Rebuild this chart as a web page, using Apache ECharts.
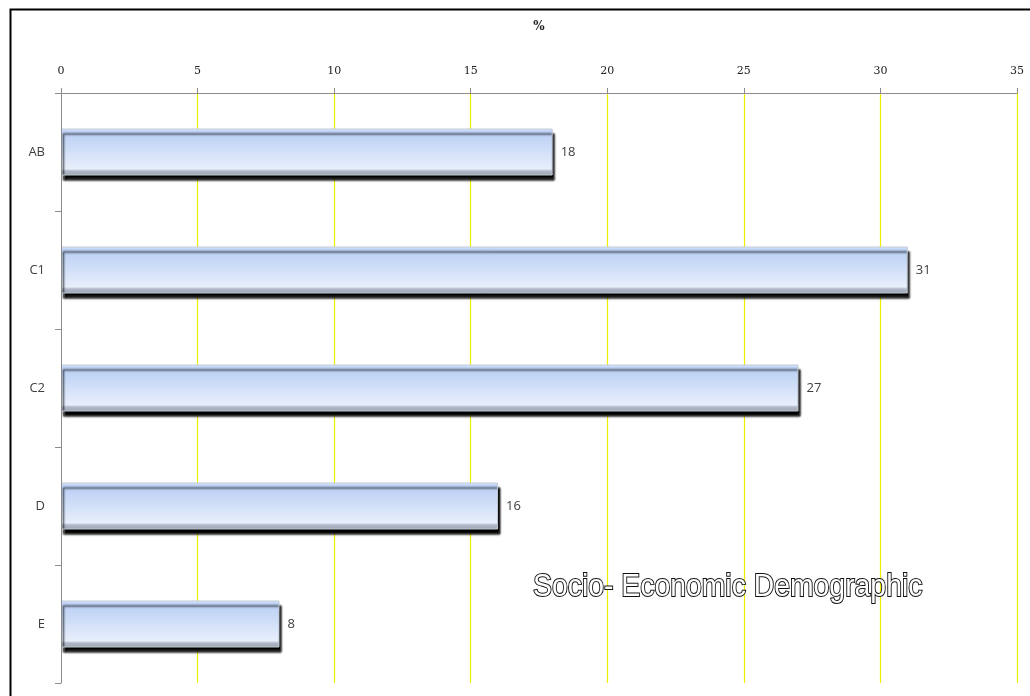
<!DOCTYPE html>
<html>
<head>
<meta charset="utf-8">
<script src="https://cdn.jsdelivr.net/npm/echarts@6/dist/echarts.min.js"></script>
<style>
  html, body { margin: 0; padding: 0; background: #fff; }
  #chart { width: 1030px; height: 696px; }
</style>
</head>
<body>
<div id="chart"></div>
<script>
var categories = ['AB', 'C1', 'C2', 'D', 'E'];
var values = [18, 31, 27, 16, 8];
var axisMax = 35;
var axisStep = 5;

var chartDom = document.getElementById('chart');
var myChart = echarts.init(chartDom, null, { renderer: 'canvas' });

var option = {
    backgroundColor: '#fff',
    animation: false,
    grid: {
        left: 61,
        top: 93,
        right: 13,
        bottom: 13
    },
    xAxis: {
        type: 'value',
        position: 'top',
        min: 0,
        max: axisMax,
        interval: axisStep,
        name: '%',
        nameLocation: 'middle',
        nameGap: 60,
        nameTextStyle: { fontFamily: 'DejaVu Serif', fontWeight: 'bold', fontSize: 12, color: '#222' },
        axisLine: { show: true, lineStyle: { color: '#8c8c8c', width: 1 } },
        axisTick: { show: true, length: 5, lineStyle: { color: '#8c8c8c' } },
        axisLabel: { fontFamily: 'DejaVu Serif', fontSize: 11, color: '#222', margin: 16 },
        splitLine: { show: true, showMinLine: false, lineStyle: { color: '#eeee00', width: 1.2 } }
    },
    yAxis: {
        type: 'category',
        data: categories,
        inverse: true,
        z: 5,
        axisLine: { show: true, lineStyle: { color: '#8c8c8c', width: 1 } },
        axisTick: { show: true, length: 6, inside: false, lineStyle: { color: '#8c8c8c' } },
        axisLabel: { fontFamily: 'Open Sans', fontSize: 13, color: '#404040', margin: 16 },
        splitLine: { show: false }
    },
    series: [{
        type: 'bar',
        data: values,
        barWidth: 47,
        itemStyle: {
            color: new echarts.graphic.LinearGradient(0, 0, 0, 1, [
                { offset: 0, color: '#e4edfc' },
                { offset: 0.07, color: '#b9cff4' },
                { offset: 0.5, color: '#d2e0f8' },
                { offset: 0.86, color: '#e8effc' },
                { offset: 0.9, color: '#b4bccb' },
                { offset: 1, color: '#9aa2b0' }
            ]),
            borderColor: '#c0c8d6',
            borderWidth: 1,
            shadowColor: 'rgba(0,0,0,1)',
            shadowOffsetX: 2,
            shadowOffsetY: 5,
            shadowBlur: 2
        },
        label: {
            show: true,
            position: 'right',
            distance: 8,
            fontFamily: 'Open Sans',
            fontSize: 13,
            color: '#404040'
        }
    }],
    graphic: [
        {
            type: 'rect',
            left: 8,
            top: 7,
            shape: { width: 1060, height: 720 },
            style: { fill: 'none', stroke: '#000', lineWidth: 2 },
            silent: true
        },
        {
            type: 'text',
            x: 533,
            y: 572,
            scaleX: 0.915,
            style: {
                text: 'Socio- Economic Demographic',
                fontFamily: 'Liberation Sans',
                fontSize: 31,
                fill: '#fff',
                stroke: '#111',
                lineWidth: 2
            },
            z: 100
        }
    ]
};

myChart.setOption(option);
</script>
</body>
</html>
